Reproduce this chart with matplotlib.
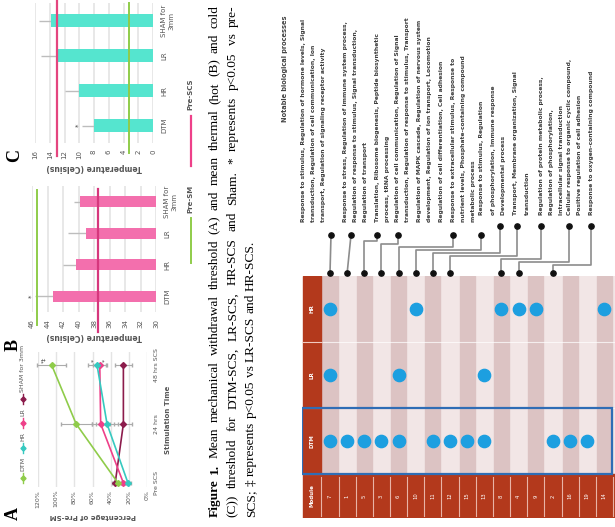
import numpy as np
import matplotlib
matplotlib.use("Agg")
from matplotlib import pyplot as plt
from matplotlib.patches import Rectangle

W, H = 615, 527

# ---- panel A: mechanical withdrawal threshold (% of pre-surgery) ----
a_times = ["Pre SCS", "24 hrs", "48 hrs SCS"]
a_dtm = [32, 78, 105]
a_hr = [21, 44, 55]
a_lr = [26, 51, 52]
a_sham = [35, 26, 26]
a_dtm_err = [3, 17, 16]
a_hr_err = [3, 12, 10]
a_lr_err = [3, 10, 8]
a_sham_err = [3, 10, 9]
a_ticks = [0, 20, 40, 60, 80, 100, 120]
a_ticklabels = ["0%", "20%", "40%", "60%", "80%", "100%", "120%"]

# ---- panels B and C: hot / cold thresholds ----
groups = ["SHAM for\n3mm", "LR", "HR", "DTM"]
b_vals = [39.8, 39.0, 40.3, 43.3]
b_err = [0.8, 2.3, 1.7, 2.3]
b_pre_scs = 37.5
b_pre_sm = 45.3
c_vals = [13.8, 13.2, 10.1, 8.0]
c_err = [1.7, 2.0, 1.9, 1.6]
c_pre_scs = 13.0
c_pre_sm = 3.3

# ---- module table ----
modules = [7, 1, 5, 3, 6, 10, 11, 12, 15, 13, 8, 4, 9, 2, 16, 19, 14]
hr_cols = [0, 5, 10, 11, 12, 16]
lr_cols = [0, 4, 9]
dtm_cols = [0, 1, 2, 3, 4, 6, 7, 8, 9, 13, 14, 15]
linked_cols = [0, 1, 2, 3, 4, 5, 6, 7, 10, 11, 13]

process_groups = [
    ["Response to stimulus, Regulation of hormone levels, Signal",
     "transduction, Regulation of cell communication, Ion",
     "transport, Regulation of signaling receptor activity"],
    ["Response to stress, Regulation of immune system process,",
     "Regulation of response to stimulus, Signal transduction,",
     "Regulation of transport"],
    ["Translation, Ribosome biogenesis, Peptide biosynthetic",
     "process, tRNA processing"],
    ["Regulation of cell communication, Regulation of Signal",
     "transduction, Regulation of response to stimulus, Transport",
     "Regulation of MAPK cascade, Regulation of nervous system",
     "development, Regulation of ion transport, Locomotion",
     "Regulation of cell differentiation, Cell adhesion"],
    ["Response to extracellular stimulus, Response to",
     "nutrient levels, Phosphate-containing compound",
     "metabolic process"],
    ["Response to stimulus, Regulation",
     "of phosphorylation, Immune response",
     "Developmental process"],
    ["Transport, Membrane organization, Signal",
     "transduction"],
    ["Regulation of protein metabolic process,",
     "Regulation of phosphorylation,",
     "Intracellular signal transduction"],
    ["Cellular response to organic cyclic compound,",
     "Positive regulation of cell adhesion"],
    ["Response to oxygen-containing compound"],
]

caption = ["Figure 1. Mean mechanical withdrawal threshold (A) and mean thermal (hot (B) and cold",
           "(C)) threshold for DTM-SCS, LR-SCS, HR-SCS and Sham. * represents p<0.05 vs pre-",
           "SCS; \u2021 represents p<0.05 vs LR-SCS and HR-SCS."]

GREEN = "#8fcc4a"
CYAN = "#36c9c0"
PINK = "#ee4089"
MAROON = "#8c1c4c"
GRID = "#e4e4e4"
TXT = "#555555"
CAP_SIZE = 9.6


def px(x0, y0, x1, y1):
    return [x0 / W, 1 - y1 / H, (x1 - x0) / W, (y1 - y0) / H]


fig = plt.figure(figsize=(W / 100, H / 100), dpi=100)
page = fig.add_axes([0, 0, 1, 1])
page.set_xlim(0, W)
page.set_ylim(H, 0)
page.axis("off")
renderer = fig.canvas.get_renderer()


def bar_panel(rect, vals, errs, lo, hi, color, scs_color, pre_scs, pre_sm, scs_span, sm_span):
    ax = fig.add_axes(rect)
    y = np.arange(len(vals))
    ax.barh(y, vals, height=0.36, color=color, zorder=2)
    ax.errorbar(vals, y, xerr=[np.zeros(len(vals)), errs], fmt="none",
                ecolor="#bdbdbd", elinewidth=1, capsize=0, zorder=1)
    ax.set_xlim(hi, lo)
    ax.set_ylim(len(vals) - 0.5, -0.5)
    ticks = np.arange(lo, hi + 1, 2)
    ax.set_xticks(ticks)
    ax.set_xticklabels([str(t) for t in ticks], rotation=90)
    ax.grid(axis="x", color=GRID, lw=1.2)
    ax.set_axisbelow(True)
    for s in ax.spines.values():
        s.set_visible(False)
    ax.tick_params(length=0, labelsize=5, colors=TXT)
    ax.tick_params(axis="x", pad=5)
    ax.yaxis.tick_right()
    ax.set_yticks(y)
    ax.set_yticklabels(groups, rotation=90, va="center", ha="left",
                       multialignment="center")
    ax.tick_params(axis="y", pad=6)
    ax.axvline(pre_scs, ymin=scs_span[0], ymax=scs_span[1], color=scs_color,
               lw=1.6, clip_on=False, zorder=3)
    ax.axvline(pre_sm, ymin=sm_span[0], ymax=sm_span[1], color=GREEN, lw=1.4,
               clip_on=False, zorder=3)
    ax.set_xlabel("Temperature (Celsius)", rotation=180, fontsize=5.5,
                  fontweight="bold", color=TXT, labelpad=3)
    ax.text(vals[-1] + errs[-1] + (hi - lo) * 0.03, len(vals) - 1, "*", rotation=90,
            fontsize=5, color="#444", ha="center", va="center")
    return ax


bar_panel(px(35, 3, 153, 143), c_vals, c_err, 0, 16, "#55e5cf", "#e4457f",
          c_pre_scs, c_pre_sm, (-0.09, 1.02), (-0.07, 1.0))
bar_panel(px(32, 186, 156, 312), b_vals, b_err, 30, 46, "#f36fad", "#d6377d",
          b_pre_scs, b_pre_sm, (-0.16, 0.98), (-0.10, 0.97))

# ---- panel A ----
axa = fig.add_axes(px(38, 352, 147, 487))
t = np.arange(len(a_times))
for vals, errs, col in [(a_sham, a_sham_err, MAROON), (a_lr, a_lr_err, PINK),
                        (a_hr, a_hr_err, CYAN), (a_dtm, a_dtm_err, GREEN)]:
    axa.errorbar(vals, t, xerr=errs, color=col, ecolor="#ababab", elinewidth=0.8,
                 capsize=1.5, marker="D", ms=3, lw=1.2, clip_on=False)
axa.set_xlim(120, 0)
axa.set_ylim(-0.07, 2.22)
axa.set_xticks(a_ticks)
axa.set_xticklabels(a_ticklabels, rotation=90)
axa.grid(axis="x", color=GRID, lw=1)
axa.set_axisbelow(True)
for s in axa.spines.values():
    s.set_visible(False)
axa.tick_params(length=0, labelsize=4.5, colors=TXT, pad=2)
axa.yaxis.tick_right()
axa.set_yticks(t)
axa.set_yticklabels(a_times, rotation=90, va="center", ha="left")
axa.tick_params(axis="y", pad=5)
axa.yaxis.set_label_position("right")
axa.set_ylabel("Stimulation Time", rotation=90, fontsize=5, fontweight="bold",
               color=TXT, labelpad=4)
axa.set_xlabel("Percentage of Pre-SM", rotation=180, fontsize=5, fontweight="bold",
               color=TXT, labelpad=4)
axa.text(a_dtm[2] + 9, 2.08, "*\u2021", rotation=90, fontsize=4.5, color="#444",
         ha="center", va="center")
axa.text(a_hr[2] + 3, 2.08, "*", rotation=90, fontsize=4.5, color="#444",
         ha="center", va="center")
axa.text(a_lr[2] - 6, 2.08, "*", rotation=90, fontsize=4.5, color="#444",
         ha="center", va="center")

# legend for A, stacked upward like the rotated page
leg_y = 478
for name, col in [("DTM", GREEN), ("HR", CYAN), ("LR", PINK), ("SHAM for 3mm", MAROON)]:
    page.plot([23, 23], [leg_y + 5, leg_y - 5], color=col, lw=1)
    page.plot(23, leg_y, marker="D", ms=2.6, color=col)
    tx = page.text(23, leg_y - 7, name, rotation=90, rotation_mode="anchor",
                   ha="left", va="center", fontsize=4.5, color=TXT)
    leg_y -= 7 + tx.get_window_extent(renderer).height + 9

# legends for B and C
page.text(190, 110, "Pre-SCS", rotation=90, rotation_mode="anchor", ha="left",
          va="center", fontsize=5, fontweight="bold", color=TXT)
page.plot([191, 191], [116, 166], color=PINK, lw=1.6)
page.text(190, 213, "Pre-SM", rotation=90, rotation_mode="anchor", ha="left",
          va="center", fontsize=5, fontweight="bold", color=TXT)
page.plot([191, 191], [218, 263], color=GREEN, lw=1.4)

# panel letters
for letter, (x, y) in {"A": (13, 513), "B": (13, 345), "C": (15, 155)}.items():
    page.text(x, y, letter, rotation=90, ha="center", va="center", fontsize=13,
              fontweight="bold", family="Liberation Serif")


# ---- caption, justified except for the last line ----
def word_width(word, bold):
    tmp = page.text(0, 0, word, fontsize=CAP_SIZE, family="Liberation Serif",
                    fontweight="bold" if bold else "normal")
    w = tmp.get_window_extent(renderer).width
    tmp.remove()
    return w


cap_bottom, cap_top = 517, 5
space = word_width("a b", False) - word_width("ab", False)
for i, line in enumerate(caption):
    words = line.split(" ")
    bold = [i == 0 and k < 2 for k in range(len(words))]
    widths = [word_width(w, b) for w, b in zip(words, bold)]
    if i < len(caption) - 1:
        gap = max(space, (cap_bottom - cap_top - sum(widths)) / (len(words) - 1))
    else:
        gap = space
    y = cap_bottom
    for w, b, wd in zip(words, bold, widths):
        page.text(215 + 18 * i, y, w, rotation=90, rotation_mode="anchor", ha="left",
                  va="center", fontsize=CAP_SIZE, family="Liberation Serif",
                  fontweight="bold" if b else "normal")
        y -= wd + gap

page.text(285, 122, "Notable biological processes", rotation=90, rotation_mode="anchor",
          ha="left", va="center", fontsize=4.8, fontweight="bold", color="#444")

# ---- module table ----
col0, colw = 330, 17.15
row_top, rowh = 276, 66
axt = fig.add_axes(px(302, 276, 615, 518))
axt.set_xlim((302 - col0) / colw, (615 - col0) / colw)
axt.set_ylim((518 - row_top) / rowh, 0)
axt.axis("off")
ncol = len(modules)
left = (303 - col0) / colw
axt.add_patch(Rectangle((-0.5, 0), ncol + 1, 3, color="#f2e6e6", zorder=0))
for k in range(0, ncol, 2):
    axt.add_patch(Rectangle((k - 0.44, 0), 0.88, 3, color="#dcc3c3", zorder=0))
for yb in [1, 2]:
    axt.plot([-0.5, ncol], [yb, yb], color="white", lw=0.8, alpha=0.7, zorder=1)
bottom = (518 - row_top) / rowh
axt.add_patch(Rectangle((left, 0), -0.5 - left, bottom, color="#b3391c", zorder=1))
axt.add_patch(Rectangle((-0.5, 3), ncol + 1, bottom - 3, color="#b3391c", zorder=1))
for k in range(ncol + 1):
    axt.plot([k - 0.5, k - 0.5], [3.04, bottom - 0.03], color="#e9b3a6", lw=0.8, zorder=2)
for yb in [1, 2, 3]:
    axt.plot([left, -0.5], [yb, yb], color="#f0c9bf", lw=0.8, zorder=2)
lab_x = (left - 0.5) / 2
for name, yc in [("HR", 0.5), ("LR", 1.5), ("DTM", 2.5), ("Module", 3 + (bottom - 3) / 2)]:
    axt.text(lab_x, yc, name, rotation=90, ha="center", va="center", fontsize=4,
             color="white", fontweight="bold", zorder=3)
for k, m in enumerate(modules):
    axt.text(k, 3 + (bottom - 3) / 2, str(m), rotation=90, ha="center", va="center",
             fontsize=3.8, color="white", zorder=3)
for cols, yc in [(hr_cols, 0.5), (lr_cols, 1.5), (dtm_cols, 2.5)]:
    axt.scatter(cols, [yc] * len(cols), s=78, color="#1d9fe0", zorder=4)
axt.add_patch(Rectangle(((302 - col0) / colw, 2), (612 - 302) / colw, 1, fill=False,
                        ec="#2f6db5", lw=1.6, zorder=5))

# ---- dendrogram linking modules to process groups ----
upper_px = [331, 351, 377, 398, 453, 481, 500, 517, 541, 569, 591]
upper_y = [235] * 6 + [226] * 5
elbow_y = [None, None, 241, 244, 247, 250, 253, 256, 259, 262, 265]
low_y = (273 - row_top) / rowh
for ux, uy, ey, c in zip(upper_px, upper_y, elbow_y, linked_cols):
    u = (ux - col0) / colw
    uy_ = (uy - row_top) / rowh
    if ey is None:
        xs, ys = [u, c], [uy_, low_y]
    else:
        e = (ey - row_top) / rowh
        xs, ys = [u, u, c, c], [uy_, e, e, low_y]
    axt.plot(xs, ys, color="#8c8c8c", lw=1.2, clip_on=False, zorder=2)
    axt.plot(u, uy_, "o", color="#111111", ms=3.8, clip_on=False, zorder=3)
    axt.plot(c, low_y, "o", color="#111111", ms=3.8, clip_on=False, zorder=3)

# process text blocks, one rotated column per line
line_x = [[303, 314, 324], [345, 356, 365], [377, 388], [398, 408, 419, 430, 441],
          [453, 463, 474], [482, 493, 503], [516, 527], [541, 551, 561], [570, 580], [591]]
text_bottom = [222] * 5 + [215] * 5
for lines, xs, yb in zip(process_groups, line_x, text_bottom):
    for s, x in zip(lines, xs):
        page.text(x, yb, s, rotation=90, rotation_mode="anchor", ha="left", va="center",
                  fontsize=4.3, fontweight="bold", color="#3c3c3c")

fig.savefig("out.png", dpi=100)
